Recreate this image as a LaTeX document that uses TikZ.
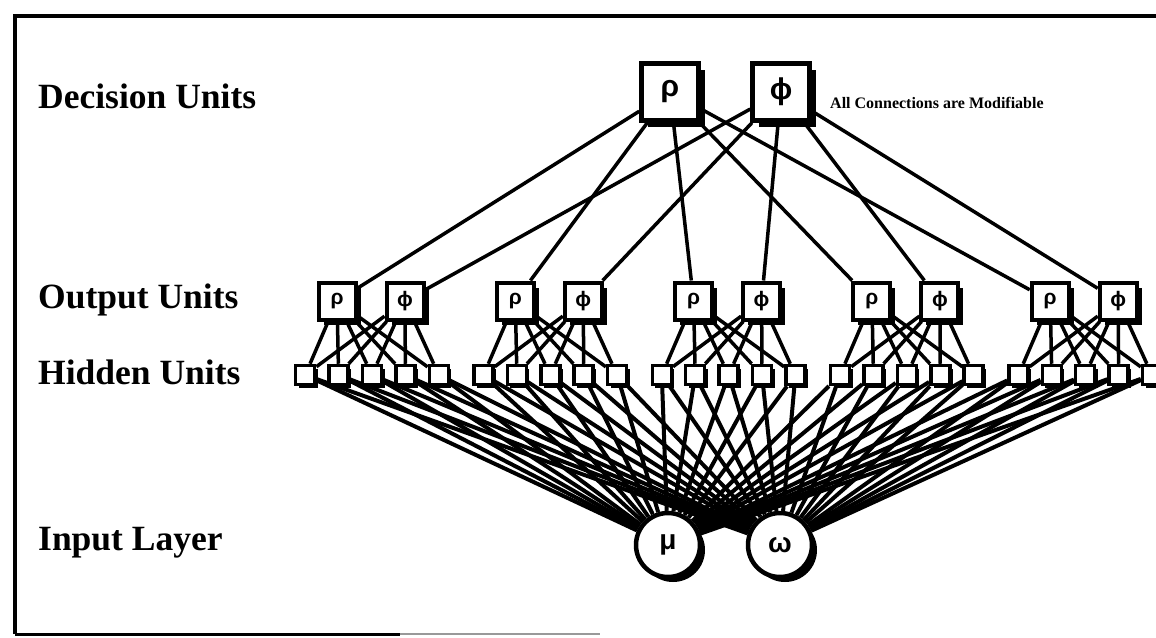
\documentclass[tikz,border=0pt]{standalone}
\usepackage{fontspec}
\setmainfont{Liberation Serif}
\setsansfont{Liberation Sans}
\usetikzlibrary{backgrounds}

\tikzset{
  blackshadow/.style={preaction={fill=black, transform canvas={shift={(#1pt,-#1pt)}}}},
  decbox/.style={draw, line width=4.5pt, fill=white, minimum size=57pt, inner sep=0pt,
    blackshadow=6, font=\sffamily\bfseries\fontsize{30}{30}\selectfont},
  outbox/.style={draw, line width=4pt, fill=white, minimum size=37pt, inner sep=0pt,
    blackshadow=5, font=\sffamily\bfseries\fontsize{21}{21}\selectfont},
  hidbox/.style={draw, line width=3.5pt, fill=white, minimum size=19pt, inner sep=0pt,
    blackshadow=3},
  inpcirc/.style={draw, circle, line width=4.5pt, fill=white, minimum size=64pt, inner sep=0pt,
    blackshadow=5, font=\sffamily\bfseries\fontsize{28}{28}\selectfont},
  conn/.style={line width=3.5pt},
  fanconn/.style={line width=4pt},
  layerlabel/.style={anchor=base west, inner sep=0pt,
    font=\bfseries\fontsize{35.5}{36}\selectfont},
}

\begin{document}
\begin{tikzpicture}[x=1pt, y=-1pt]
\useasboundingbox (0,0) rectangle (1156,637);

% frame
\draw[line width=4pt] (15,634) -- (15,16) -- (1156,16);
\draw[line width=3pt] (15,634) -- (400,634);
\draw[line width=2pt, black!40] (400,634) -- (600,634);

% layer labels
\node[layerlabel] (lDec) at (38,108) {Decision Units};
\node[layerlabel] (lOut) at (38,308) {Output Units};
\node[layerlabel] (lHid) at (38,384) {Hidden Units};
\node[layerlabel] (lInp) at (38,550) {Input Layer};

% decision units
\node[decbox] (dr) at (670,92) {ρ};
\node[decbox] (dp) at (781,92) {ϕ};
\node[anchor=base west, inner sep=0pt, font=\bfseries\fontsize{16}{16}\selectfont]
  (note) at (830,108) {All Connections are Modifiable};

% output and hidden units, five groups
\foreach \k in {0,...,4} {
  \pgfmathsetmacro\g{372+178.3*\k}
  \node[outbox] (or\k) at (\g-35,301) {ρ};
  \node[outbox] (op\k) at (\g+33,301) {ϕ};
  \foreach \j in {0,...,4} {
    \node[hidbox] (h\k\j) at (\g+33.4*\j-66.8,375) {};
  }
}

% input units
\node[inpcirc] (mu) at (668,545) {μ};
\node[inpcirc] (om) at (780,545) {ω};

% connections
\begin{scope}[on background layer]
\foreach \k in {0,...,4} {
  \draw[conn] (dr) -- (or\k);
  \draw[conn] (dp) -- (op\k);
  \foreach \j in {0,...,4} {
    \draw[conn] (or\k) -- (h\k\j);
    \draw[conn] (op\k) -- (h\k\j);
    \draw[fanconn] (h\k\j) -- (mu);
    \draw[fanconn] (h\k\j) -- (om);
  }
}
\end{scope}
\end{tikzpicture}
\end{document}
